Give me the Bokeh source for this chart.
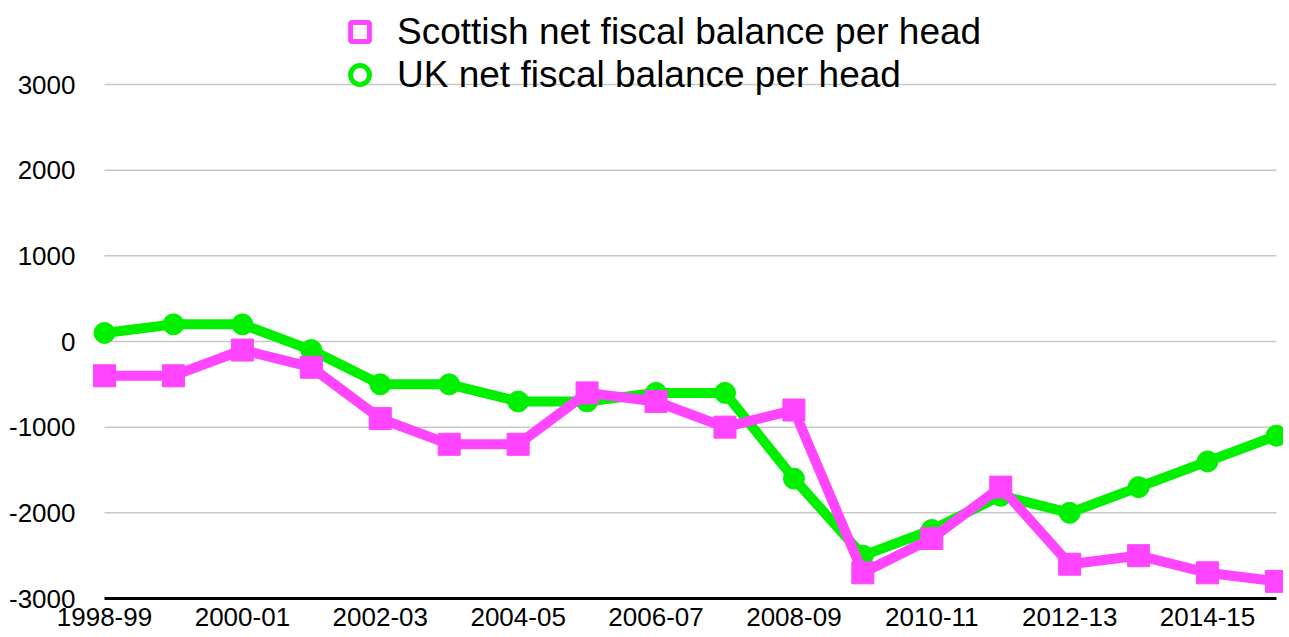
from bokeh.plotting import figure
from bokeh.models import (Range1d, FixedTicker, ColumnDataSource, Legend,
                          LegendItem)
from bokeh.embed import file_html
from bokeh.resources import INLINE

years = ["1998-99", "1999-00", "2000-01", "2001-02", "2002-03", "2003-04",
         "2004-05", "2005-06", "2006-07", "2007-08", "2008-09", "2009-10",
         "2010-11", "2011-12", "2012-13", "2013-14", "2014-15", "2015-16"]
scotland = [-400, -400, -100, -300, -900, -1200, -1200, -600, -700, -1000,
            -800, -2700, -2300, -1700, -2600, -2500, -2700, -2800]
uk = [100, 200, 200, -100, -500, -500, -700, -700, -600, -600,
      -1600, -2500, -2200, -1800, -2000, -1700, -1400, -1100]
y_ticks = [-3000, -2000, -1000, 0, 1000, 2000, 3000]
x_tick_idx = list(range(0, len(years), 2))
series_labels = ["Scottish net fiscal balance per head",
                 "UK net fiscal balance per head"]

MAGENTA = "#FF45FF"
GREEN = "#00F000"
FONT = "Liberation Sans"

idx = list(range(len(years)))
n = len(years) - 1

p = figure(width=1283, height=637, output_backend="svg",
           toolbar_location=None,
           x_range=Range1d(-0.2031, n + 0.1015), y_range=Range1d(-3000, 3864),
           min_border_left=90, min_border_right=0, min_border_top=10,
           min_border_bottom=39)
p.outline_line_color = None
p.background_fill_color = "white"
p.xgrid.visible = False
p.ygrid.visible = False

# gridlines (bounded to data extent)
g = [t for t in y_ticks if t != y_ticks[0]]
p.segment(x0=[0] * len(g), x1=[n] * len(g), y0=g, y1=g,
          line_color="#c8c8c8", line_width=1.5)

src = ColumnDataSource(dict(x=idx, s=scotland, u=uk))
p.line("x", "u", source=src, line_color=GREEN, line_width=10, line_join="round")
p.scatter("x", "u", source=src, marker="circle", size=21, fill_color=GREEN,
          line_color=GREEN)
p.line("x", "s", source=src, line_color=MAGENTA, line_width=10, line_join="miter")
p.scatter("x", "s", source=src, marker="square", size=22, fill_color=MAGENTA,
          line_color=MAGENTA)

# legend-only glyphs: a single undefined (NaN) point, so nothing shows in the plot
nan = float("nan")
leg_src = ColumnDataSource(dict(x=[nan], y=[nan]))
ms = p.scatter("x", "y", source=leg_src, marker="square", size=19,
               fill_color="white", line_color=MAGENTA, line_width=5)
mu = p.scatter("x", "y", source=leg_src, marker="circle", size=19,
               fill_color="white", line_color=GREEN, line_width=5)


def make_legend(label, rend, loc):
    lg = Legend(items=[LegendItem(label=label, renderers=[rend])], location=loc)
    lg.label_text_font = FONT
    lg.label_text_font_size = "37px"
    lg.label_text_color = "black"
    lg.label_height = 43
    lg.glyph_height = 47
    lg.glyph_width = 47
    lg.label_standoff = 14
    lg.padding = 0
    lg.spacing = 0
    lg.margin = 0
    lg.border_line_color = None
    lg.background_fill_alpha = 0
    return lg


p.add_layout(make_legend(series_labels[0], ms, (246, 543)), "center")
p.add_layout(make_legend(series_labels[1], mu, (246, 500)), "center")

# axes
p.xaxis.ticker = FixedTicker(ticks=x_tick_idx)
p.xaxis.major_label_overrides = {i: years[i] for i in x_tick_idx}
p.xaxis.bounds = (0, n)
p.xaxis.axis_line_color = "black"
p.xaxis.axis_line_width = 3
p.xaxis.major_tick_line_color = None
p.xaxis.minor_tick_line_color = None
p.xaxis.major_tick_out = 0
p.xaxis.major_tick_in = 0
p.xaxis.major_label_standoff = 9
p.xaxis.major_label_text_font = FONT
p.xaxis.major_label_text_font_size = "26px"
p.xaxis.major_label_text_color = "black"

p.yaxis.ticker = FixedTicker(ticks=y_ticks)
p.yaxis.major_label_overrides = {t: str(t) for t in y_ticks}
p.yaxis.axis_line_color = None
p.yaxis.major_tick_line_color = None
p.yaxis.minor_tick_line_color = None
p.yaxis.major_tick_out = 0
p.yaxis.major_tick_in = 0
p.yaxis.major_label_standoff = 15
p.yaxis.major_label_text_font = FONT
p.yaxis.major_label_text_font_size = "26px"
p.yaxis.major_label_text_color = "black"

open("out.html", "w").write(file_html(p, INLINE))
